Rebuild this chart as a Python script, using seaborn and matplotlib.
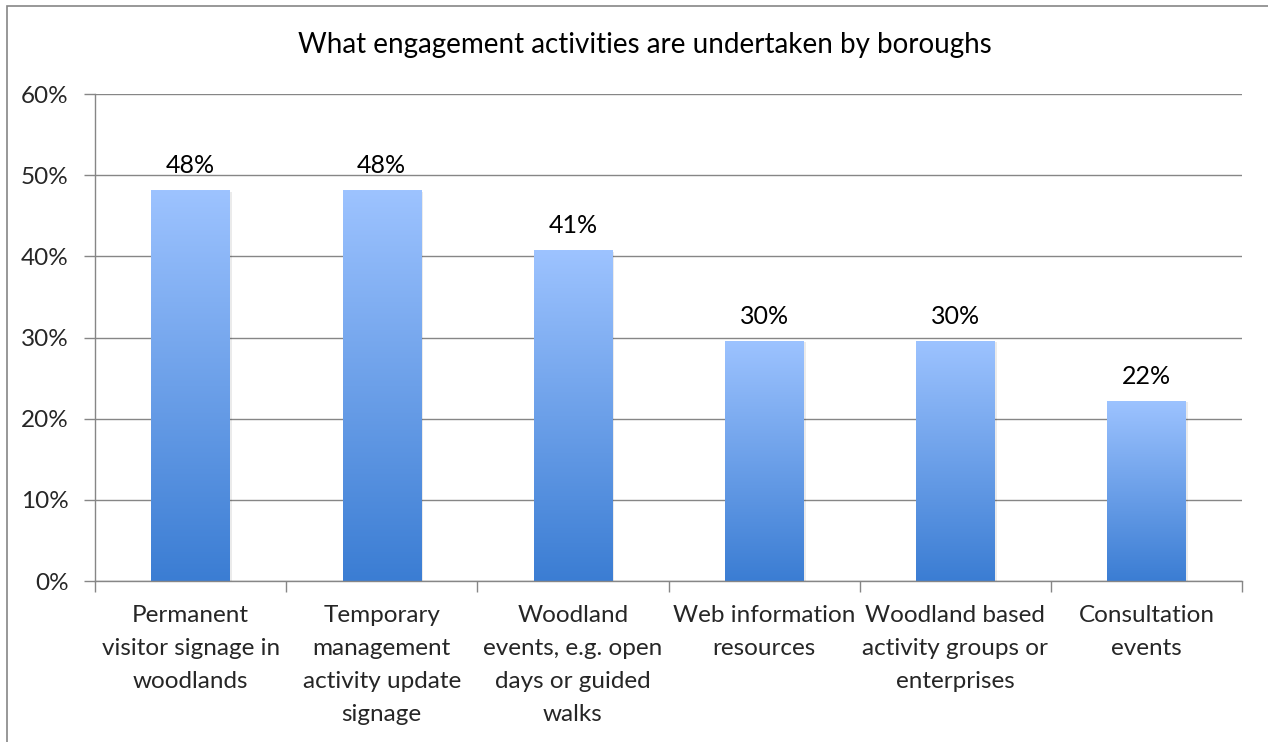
import numpy as np
import pandas as pd
import matplotlib.pyplot as plt
import matplotlib.colors as mcolors
from matplotlib.patches import Rectangle
import seaborn as sns

# chart data (share of 27 boroughs)
categories = [
    "Permanent\nvisitor signage in\nwoodlands",
    "Temporary\nmanagement\nactivity update\nsignage",
    "Woodland\nevents, e.g. open\ndays or guided\nwalks",
    "Web information\nresources",
    "Woodland based\nactivity groups or\nenterprises",
    "Consultation\nevents",
]
shares = [13 / 27, 13 / 27, 11 / 27, 8 / 27, 8 / 27, 6 / 27]
yticks = [0, 0.1, 0.2, 0.3, 0.4, 0.5, 0.6]

df = pd.DataFrame({"activity": categories, "share": shares})

sns.set_theme(style="white")
plt.rcParams["font.family"] = ["Lato", "DejaVu Sans"]

fig = plt.figure(figsize=(12.68, 7.42), dpi=100)
ax = fig.add_axes([95 / 1268, 1 - 581 / 742, (1242 - 95) / 1268, (581 - 94) / 742])

sns.barplot(data=df, x="activity", y="share", ax=ax, width=0.41,
            color="#6fa0e8", saturation=1)

# vertical gradient per bar, light at top, dark at bottom
grad_cmap = mcolors.LinearSegmentedColormap.from_list("bar", ["#3b7dd3", "#9dc3ff"])
grad = np.linspace(0, 1, 256).reshape(-1, 1)
for p in ax.patches:
    x0, y0 = p.get_x(), p.get_y()
    w, h = p.get_width(), p.get_height()
    # faint shadow
    ax.add_patch(Rectangle((x0 + 0.012, y0), w, h - 0.002, facecolor="#000000",
                           alpha=0.08, edgecolor="none", zorder=1.5))
    im = ax.imshow(grad, extent=(x0, x0 + w, y0, y0 + h), origin="lower",
                   cmap=grad_cmap, aspect="auto", zorder=2)
    im.set_clip_path(p)
    p.set_facecolor("none")
    p.set_edgecolor("none")
    ax.text(x0 + w / 2, h + 0.016, f"{round(h * 100):.0f}%", ha="center",
            va="bottom", fontsize=18, color="black")

ax.set_xlim(-0.5, len(categories) - 0.5)
ax.set_ylim(0, 0.6)
ax.set_yticks(yticks)
ax.set_yticklabels([f"{int(round(t * 100))}%" for t in yticks], fontsize=17.5)
ax.yaxis.grid(True, color="#868686", linewidth=1)
ax.set_axisbelow(True)

# category boundary ticks on x axis, labels centred between them
ax.set_xticks(np.arange(-0.5, len(categories) + 0.5, 1))
ax.set_xticklabels([])
ax.set_xticks(np.arange(len(categories)), minor=True)
ax.set_xticklabels(categories, minor=True, fontsize=17.5, linespacing=1.72, va="top")
ax.tick_params(axis="x", which="major", length=8, color="#868686", width=1, direction="out", bottom=True)
ax.tick_params(axis="x", which="minor", length=0, pad=17)
ax.tick_params(axis="y", length=8, color="#868686", width=1, direction="out", left=True, pad=11)
ax.set_xlabel("")
ax.set_ylabel("")

for side in ["top", "right"]:
    ax.spines[side].set_visible(False)
for side in ["left", "bottom"]:
    ax.spines[side].set_color("#868686")
    ax.spines[side].set_linewidth(1)

fig.text(645 / 1268, 1 - 45 / 742, "What engagement activities are undertaken by boroughs",
         ha="center", va="center", fontsize=20, color="black")

# outer chart border (only left and top visible in the crop)
fig.add_artist(Rectangle((6.5 / 1268, -0.1), 1.2, 1 - 5.5 / 742 + 0.1,
                         transform=fig.transFigure, facecolor="none",
                         edgecolor="#868686", linewidth=1.2))

fig.savefig("out.png", dpi=100)
